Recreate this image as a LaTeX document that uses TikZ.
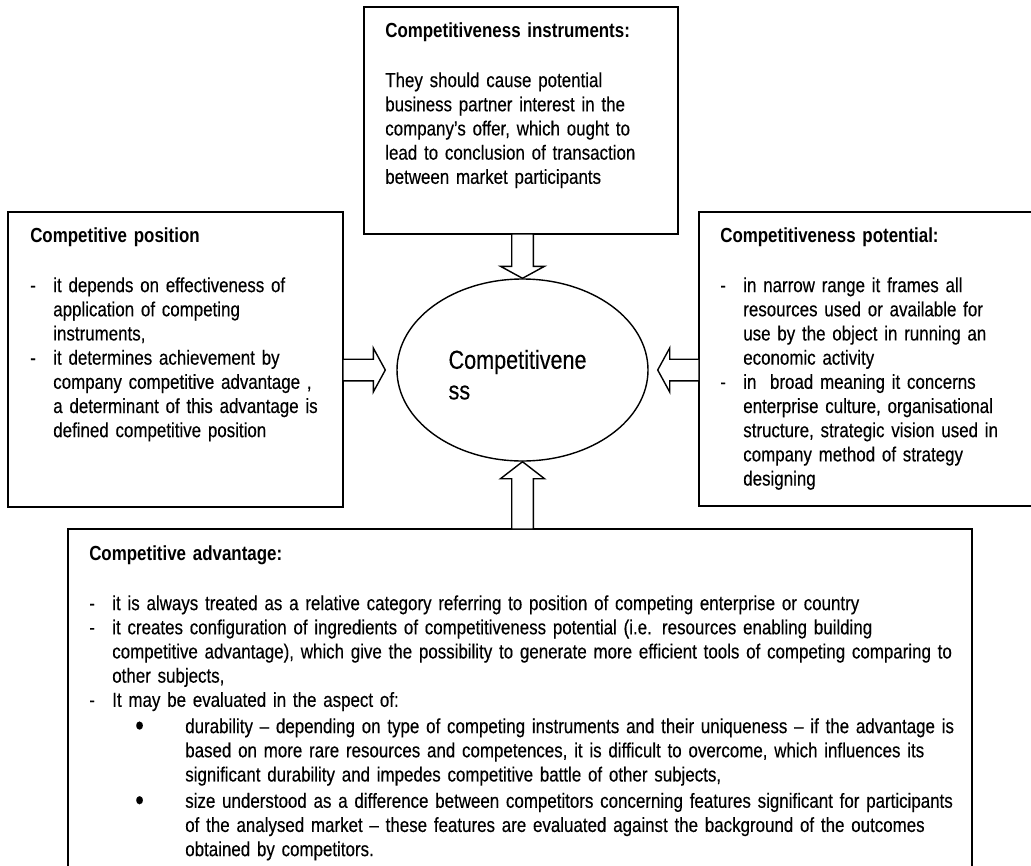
\documentclass[tikz,border=0pt]{standalone}
\usepackage{fontspec}
\setmainfont{Liberation Sans}[FakeStretch=0.83, UprightFeatures={FakeBold=0.3}]
\usetikzlibrary{calc,positioning,shapes.geometric}

% list lines with hanging indent
\newcommand{\headgap}{\par\vspace{18.4pt}}
\newcommand{\dashpar}{\par\noindent\hangindent=0.575cm\hangafter=1\makebox[0.575cm][l]{-}}
\newcommand{\bigdot}{\raisebox{-1.6pt}{\fontsize{21}{17}\selectfont\textbullet}}
\newcommand{\dotpar}{\par\vspace{1.5pt}\noindent\hangindent=2.4cm\hangafter=1\hspace*{1.15cm}\makebox[1.25cm][l]{\bigdot}}

\tikzset{
  box/.style={draw, line width=1.5pt, anchor=north west, inner sep=0pt, outer sep=0pt},
  txt/.style={anchor=north west, inner sep=0pt, text width=#1, align=left,
    font={\fontsize{14.5}{17.2}\selectfont\parindent=0pt}},
  txt/.default=10cm,
  % hollow block arrow from start to tip, #1 = head length
  hollow/.style={line width=1pt, fill=white, to path={
    let \p1=(\tikztostart), \p2=(\tikztotarget), \p3=($(\p2)!#1!(\p1)$) in
    (\p2) -- ($(\p3)!0.55cm!90:(\p2)$) -- ($(\p3)!0.27cm!90:(\p2)$)
    -- ($(\p1)!0.27cm!90:(\p2)$) -- ($(\p1)!0.27cm!-90:(\p2)$)
    -- ($(\p3)!0.27cm!-90:(\p2)$) -- ($(\p3)!0.55cm!-90:(\p2)$) -- cycle}},
  hollow/.default=0.3cm
}

\begin{document}
\begin{tikzpicture}
    \path[use as bounding box, clip] (0,0) rectangle (25.775,-21.65);

    % boxes
    \node[box, minimum width=7.85cm, minimum height=5.675cm] (instr) at (9.1,-0.175) {};
    \node[box, minimum width=8.375cm, minimum height=7.375cm] (pos) at (0.2,-5.3) {};
    \node[box, minimum width=8.65cm, minimum height=7.35cm] (pot) at (17.475,-5.3) {};
    \node[box, minimum width=22.6cm, minimum height=8.8cm] (adv) at (1.7,-13.225) {};

    % centre
    \node[draw, ellipse, line width=1pt, minimum width=6.275cm, minimum height=4.55cm] (ell) at (13.0625,-9.25) {};
    \node[anchor=west, inner sep=0pt, align=left, font=\fontsize{18.5}{21.8}\selectfont]
      (ellText) at ($(ell.west)+(1.3,-0.12)$) {Competitivene\\ss};

    % arrows into the centre
    \draw[hollow] (ell.north |- instr.south) to (ell.north);
    \draw[hollow] (pos.east |- ell.west) to ($(ell.west)+(-0.275,0)$);
    \draw[hollow] (pot.west |- ell.east) to ($(ell.east)+(0.225,0)$);
    \draw[hollow=0.425cm] (ell.south |- adv.north) to (ell.south);

    % texts
    \node[txt] (instrText) at ($(instr.north west)+(0.525,-0.375)$) {%
      \textbf{Competitiveness instruments:}\headgap
      They should cause potential\newline business partner interest in the\newline
      company’s offer, which ought to\newline lead to conclusion of transaction\newline
      between market participants\par};
    \node[txt] (posText) at ($(pos.north west)+(0.55,-0.375)$) {%
      \textbf{Competitive position}\headgap
      \dashpar it depends on effectiveness of\newline application of competing\newline instruments,
      \dashpar it determines achievement by\newline company competitive advantage ,\newline
      a determinant of this advantage is\newline defined competitive position\par};
    \node[txt] (potText) at ($(pot.north west)+(0.525,-0.375)$) {%
      \textbf{Competitiveness potential:}\headgap
      \dashpar in narrow range it frames all\newline resources used or available for\newline
      use by the object in running an\newline economic activity
      \dashpar in~~broad meaning it concerns\newline enterprise culture, organisational\newline
      structure, strategic vision used in\newline company method of strategy\newline designing\par};
    \node[txt=23cm] (advText) at ($(adv.north west)+(0.525,-0.4)$) {%
      \textbf{Competitive advantage:}\headgap
      \dashpar it is always treated as a relative category referring to position of competing enterprise or country
      \dashpar it creates configuration of ingredients of competitiveness potential (i.e. resources enabling building\newline
      competitive advantage), which give the possibility to generate more efficient tools of competing comparing to\newline
      other subjects,
      \dashpar It may be evaluated in the aspect of:
      \dotpar durability – depending on type of competing instruments and their uniqueness – if the advantage is\newline
      based on more rare resources and competences, it is difficult to overcome, which influences its\newline
      significant durability and impedes competitive battle of other subjects,
      \dotpar size understood as a difference between competitors concerning features significant for participants\newline
      of the analysed market – these features are evaluated against the background of the outcomes\newline
      obtained by competitors.\par};
\end{tikzpicture}
\end{document}
